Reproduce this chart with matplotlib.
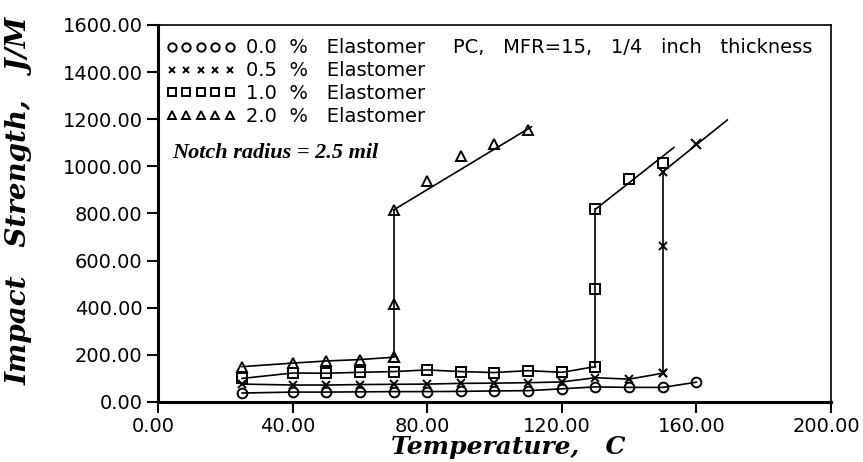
import matplotlib
matplotlib.use("Agg")
import matplotlib.pyplot as plt
import matplotlib.transforms as mtransforms
from matplotlib.lines import Line2D

# ---- data ----
# 0.0 % elastomer (circles)
c_x = [25, 40, 50, 60, 70, 80, 90, 100, 110, 120, 130, 140, 150, 160]
c_y = [38, 42, 42, 43, 44, 44, 45, 47, 48, 56, 64, 62, 62, 84]

# 0.5 % elastomer (x marks): lower branch, jump at 150, upper branch
x_low_x = [25, 40, 50, 60, 70, 80, 90, 100, 110, 120, 130, 140, 150]
x_low_y = [76, 72, 72, 74, 75, 76, 79, 80, 82, 85, 103, 97, 122]
x_jump_x = [150, 150, 150]
x_jump_y = [122, 662, 977]
x_up_x = [160]
x_up_y = [1094]
x_fit_x = [150, 169.2]
x_fit_y = [977, 1197]

# 1.0 % elastomer (squares)
s_low_x = [25, 40, 50, 60, 70, 80, 90, 100, 110, 120, 130]
s_low_y = [100, 123, 122, 126, 129, 136, 129, 125, 133, 126, 150]
s_jump_x = [130, 130, 130]
s_jump_y = [150, 480, 818]
s_up_x = [140, 150]
s_up_y = [948, 1016]
s_fit_x = [130, 153.3]
s_fit_y = [818, 1080]

# 2.0 % elastomer (triangles)
t_low_x = [25, 40, 50, 60, 70]
t_low_y = [150, 165, 174, 180, 190]
t_jump_x = [70, 70, 70]
t_jump_y = [190, 415, 815]
t_up_x = [80, 90, 100, 110]
t_up_y = [940, 1045, 1095, 1155]
t_fit_x = [70, 111]
t_fit_y = [815, 1168]

legend_labels = ["0.0  %   Elastomer", "0.5  %   Elastomer",
                 "1.0  %   Elastomer", "2.0  %   Elastomer"]
x_ticks = [0, 40, 80, 120, 160, 200]
y_ticks = [0, 200, 400, 600, 800, 1000, 1200, 1400, 1600]

# ---- figure ----
fig = plt.figure(figsize=(8.63, 4.62), dpi=100)
ax = fig.add_axes([0.1831, 0.1299, 0.7798, 0.8160])

lw = 1.2
mk = dict(color="black", markerfacecolor="none", markeredgewidth=1.4)

# circles
ax.plot(c_x, c_y, linestyle="-", lw=lw, marker="o", markersize=7, **mk)
# x marks
ax.plot(x_low_x, x_low_y, linestyle="-", lw=lw, marker="x", markersize=6, **mk)
ax.plot(x_jump_x, x_jump_y, linestyle="-", lw=lw, marker="x", markersize=6, **mk)
ax.plot(x_up_x, x_up_y, linestyle="none", marker="x", markersize=7, **mk)
ax.plot(x_fit_x, x_fit_y, linestyle="-", lw=lw, color="black")
# squares
ax.plot(s_low_x, s_low_y, linestyle="-", lw=lw, marker="s", markersize=6.5, **mk)
ax.plot(s_jump_x, s_jump_y, linestyle="-", lw=lw, marker="s", markersize=6.5, **mk)
ax.plot(s_up_x, s_up_y, linestyle="none", marker="s", markersize=6.5, **mk)
ax.plot(s_fit_x, s_fit_y, linestyle="-", lw=lw, color="black")
# triangles
ax.plot(t_low_x, t_low_y, linestyle="-", lw=lw, marker="^", markersize=7, **mk)
ax.plot(t_jump_x, t_jump_y, linestyle="-", lw=lw, marker="^", markersize=7, **mk)
ax.plot(t_up_x, t_up_y, linestyle="none", marker="^", markersize=7, **mk)
ax.plot(t_fit_x, t_fit_y, linestyle="-", lw=lw, color="black")

ax.set_xlim(0, 200)
ax.set_ylim(0, 1600)
ax.set_xticks(x_ticks)
ax.set_yticks(y_ticks)
ax.set_xticklabels([f"{v:.2f}" for v in x_ticks])
ax.set_yticklabels([f"{v:.2f}" for v in y_ticks])
ax.tick_params(axis="both", direction="out", length=8, width=1.5,
               labelsize=14, pad=3)
shift = mtransforms.ScaledTranslation(-5 / 100, 0, fig.dpi_scale_trans)
for lab in ax.get_xticklabels():
    lab.set_family("DejaVu Sans")
    lab.set_transform(lab.get_transform() + shift)
for lab in ax.get_yticklabels():
    lab.set_family("DejaVu Sans")

ax.spines["left"].set_linewidth(2.2)
ax.spines["bottom"].set_linewidth(2.2)
ax.spines["top"].set_linewidth(1.2)
ax.spines["right"].set_linewidth(1.2)

ax.set_xlabel("Temperature,   C", family="DejaVu Serif", style="italic",
              weight="bold", fontsize=18)
ax.xaxis.set_label_coords(0.52, -0.088)
ax.set_ylabel("Impact   Strength,   J/M", family="DejaVu Serif",
              style="italic", weight="bold", fontsize=20)
ax.yaxis.set_label_coords(-0.186, 0.535)

handles = [
    Line2D([], [], linestyle="none", marker="o", markersize=6, **mk),
    Line2D([], [], linestyle="none", marker="x", markersize=5, **mk),
    Line2D([], [], linestyle="none", marker="s", markersize=5.5, **mk),
    Line2D([], [], linestyle="none", marker="^", markersize=6, **mk),
]
leg = ax.legend(handles, legend_labels, loc="upper left",
                bbox_to_anchor=(0.0, 0.985), frameon=False, numpoints=5,
                handlelength=3.6, handletextpad=0.5, labelspacing=0.2,
                borderaxespad=0.2, borderpad=0.2,
                prop={"family": "DejaVu Sans", "size": 14})

ax.text(0.438, 0.939, "PC,   MFR=15,   1/4   inch   thickness",
        transform=ax.transAxes, ha="left", va="center",
        family="DejaVu Sans", fontsize=14)
ax.text(0.021, 0.66, "Notch radius = 2.5 mil", transform=ax.transAxes,
        ha="left", va="center", family="Liberation Serif", style="italic",
        weight="bold", fontsize=16)

fig.savefig("out.png", dpi=100)
